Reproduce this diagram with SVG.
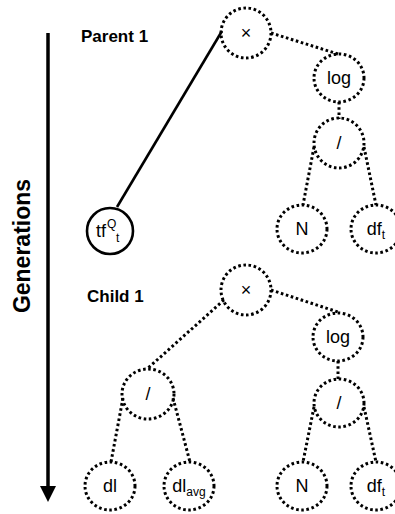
<svg xmlns="http://www.w3.org/2000/svg" width="395" height="514" viewBox="0 0 395 514">
<style>
.dot{fill:none;stroke:#000;stroke-width:3;stroke-dasharray:2.6 2.6}
.solid{fill:none;stroke:#000;stroke-width:2.6}
.lbl{font-family:"Liberation Sans",Arial,sans-serif;font-size:18px;fill:#000;text-anchor:middle}
.sm{font-family:"Liberation Sans",Arial,sans-serif;font-size:12px;fill:#000}
.sub{font-size:12px}
.title{font-family:"Liberation Sans",Arial,sans-serif;font-size:17px;font-weight:bold;fill:#000}
</style>
<rect width="395" height="514" fill="#fff"/>
<g id="axis">
<line x1="48" y1="33" x2="48" y2="488" stroke="#000" stroke-width="3.5"/>
<polygon points="40,486 56,486 48,502" fill="#000"/>
<text class="title" transform="translate(30,246) rotate(-90)" text-anchor="middle" style="font-size:23px">Generations</text>
</g>
<text class="title" x="81" y="42">Parent 1</text>
<text class="title" x="87" y="302">Child 1</text>
<g id="connectors">
<line class="solid" x1="117" y1="207" x2="222" y2="31"/>
<line class="dot" x1="271" y1="33" x2="338" y2="54"/>
<line class="dot" x1="339" y1="102" x2="339" y2="119"/>
<line class="dot" x1="314" y1="147" x2="303" y2="205"/>
<line class="dot" x1="364" y1="147" x2="376" y2="205"/>
<line class="dot" x1="271" y1="290" x2="338" y2="312"/>
<line class="dot" x1="338" y1="361" x2="338" y2="379"/>
<line class="dot" x1="314" y1="407" x2="303" y2="462"/>
<line class="dot" x1="364" y1="407" x2="376" y2="462"/>
<line class="dot" x1="224" y1="300" x2="147" y2="369"/>
<line class="dot" x1="123" y1="398" x2="111" y2="462"/>
<line class="dot" x1="173" y1="398" x2="190" y2="462"/>
</g>
<g id="p_mul"><ellipse class="dot" cx="246" cy="33" rx="25" ry="25"/><text class="lbl" x="246" y="39">×</text></g>
<g id="p_log"><ellipse class="dot" cx="339" cy="78" rx="25" ry="24"/><text class="lbl" x="339" y="84">log</text></g>
<g id="p_div"><ellipse class="dot" cx="339" cy="143" rx="25" ry="25"/><text class="lbl" x="339" y="149">/</text></g>
<g id="p_N"><ellipse class="dot" cx="302" cy="229" rx="25" ry="24"/><text class="lbl" x="302" y="235">N</text></g>
<g id="p_df"><ellipse class="dot" cx="376" cy="229" rx="25" ry="24"/><text class="lbl" x="376" y="235">df<tspan class="sub" dy="4">t</tspan></text></g>
<g id="p_tf"><circle class="solid" cx="110" cy="231" r="23"/><text class="lbl" x="101" y="237">tf</text><text class="sm" x="107" y="228">Q</text><text class="sm" x="116" y="242">t</text></g>
<g id="c_mul"><ellipse class="dot" cx="246" cy="290" rx="25" ry="25"/><text class="lbl" x="246" y="296">×</text></g>
<g id="c_log"><ellipse class="dot" cx="338" cy="337" rx="25" ry="24"/><text class="lbl" x="338" y="343">log</text></g>
<g id="c_div2"><ellipse class="dot" cx="339" cy="403" rx="25" ry="24"/><text class="lbl" x="339" y="409">/</text></g>
<g id="c_N"><ellipse class="dot" cx="302" cy="486" rx="25" ry="24"/><text class="lbl" x="302" y="492">N</text></g>
<g id="c_df"><ellipse class="dot" cx="376" cy="486" rx="25" ry="24"/><text class="lbl" x="376" y="492">df<tspan class="sub" dy="4">t</tspan></text></g>
<g id="c_div1"><ellipse class="dot" cx="148" cy="394" rx="26" ry="25"/><text class="lbl" x="148" y="400">/</text></g>
<g id="c_dl"><ellipse class="dot" cx="110" cy="486" rx="25" ry="24"/><text class="lbl" x="110" y="492">dl</text></g>
<g id="c_dlavg"><ellipse class="dot" cx="189" cy="486" rx="25" ry="24"/><text class="lbl" x="189" y="492">dl<tspan class="sub" dy="4">avg</tspan></text></g>
</svg>
